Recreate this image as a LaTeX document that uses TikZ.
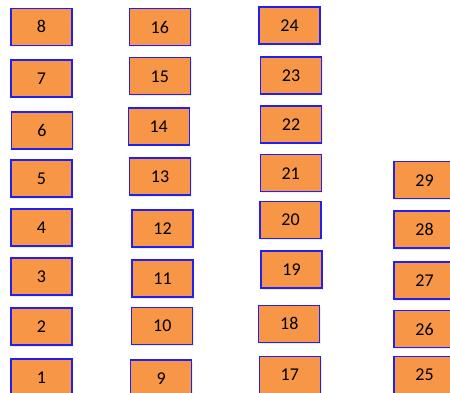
\documentclass[tikz,border=0pt]{standalone}
\usepackage{fontspec}
\setmainfont{Carlito}
\usetikzlibrary{shadows}
\definecolor{boxfill}{HTML}{F79646}
\definecolor{boxline}{HTML}{2020F5}
\tikzset{
  numbox/.style={draw=boxline, fill=boxfill, line width=1.1pt, minimum width=61pt, minimum height=37pt, inner sep=0pt,
    font=\fontsize{18}{18}\selectfont, text=black,
    drop shadow={opacity=0.15, shadow xshift=1.2pt, shadow yshift=-1.5pt}}
}
\begin{document}
\begin{tikzpicture}[x=1pt,y=-1pt]
\useasboundingbox (0,0) rectangle (450,393);
\clip (0,0) rectangle (450,393);
\node[numbox] (n1) at (41.5,377.5) {1};
\node[numbox] (n2) at (41.5,326.5) {2};
\node[numbox] (n3) at (41.5,276.5) {3};
\node[numbox] (n4) at (41.5,227.5) {4};
\node[numbox] (n5) at (41.5,178.5) {5};
\node[numbox] (n6) at (42,130.5) {6};
\node[numbox] (n7) at (41.5,78.5) {7};
\node[numbox] (n8) at (41.5,26.7) {8};
\node[numbox] (n9) at (161.3,378.5) {9};
\node[numbox] (n10) at (162.3,326.2) {10};
\node[numbox] (n11) at (162.5,278.5) {11};
\node[numbox] (n12) at (162.5,228.5) {12};
\node[numbox] (n13) at (160,176.5) {13};
\node[numbox] (n14) at (158.7,126.5) {14};
\node[numbox] (n15) at (159.8,76.3) {15};
\node[numbox] (n16) at (159.8,27.2) {16};
\node[numbox] (n17) at (289.8,374.8) {17};
\node[numbox] (n18) at (289.3,323.7) {18};
\node[numbox] (n19) at (291.5,269.5) {19};
\node[numbox] (n20) at (290.5,220.2) {20};
\node[numbox] (n21) at (290.7,173.3) {21};
\node[numbox] (n22) at (291,124.5) {22};
\node[numbox] (n23) at (291,75.5) {23};
\node[numbox] (n24) at (289.5,25.5) {24};
\node[numbox] (n25) at (424.5,374.7) {25};
\node[numbox] (n26) at (424.5,329.3) {26};
\node[numbox] (n27) at (424.5,280.5) {27};
\node[numbox] (n28) at (424.5,229.5) {28};
\node[numbox] (n29) at (424.5,180.2) {29};
\end{tikzpicture}
\end{document}
